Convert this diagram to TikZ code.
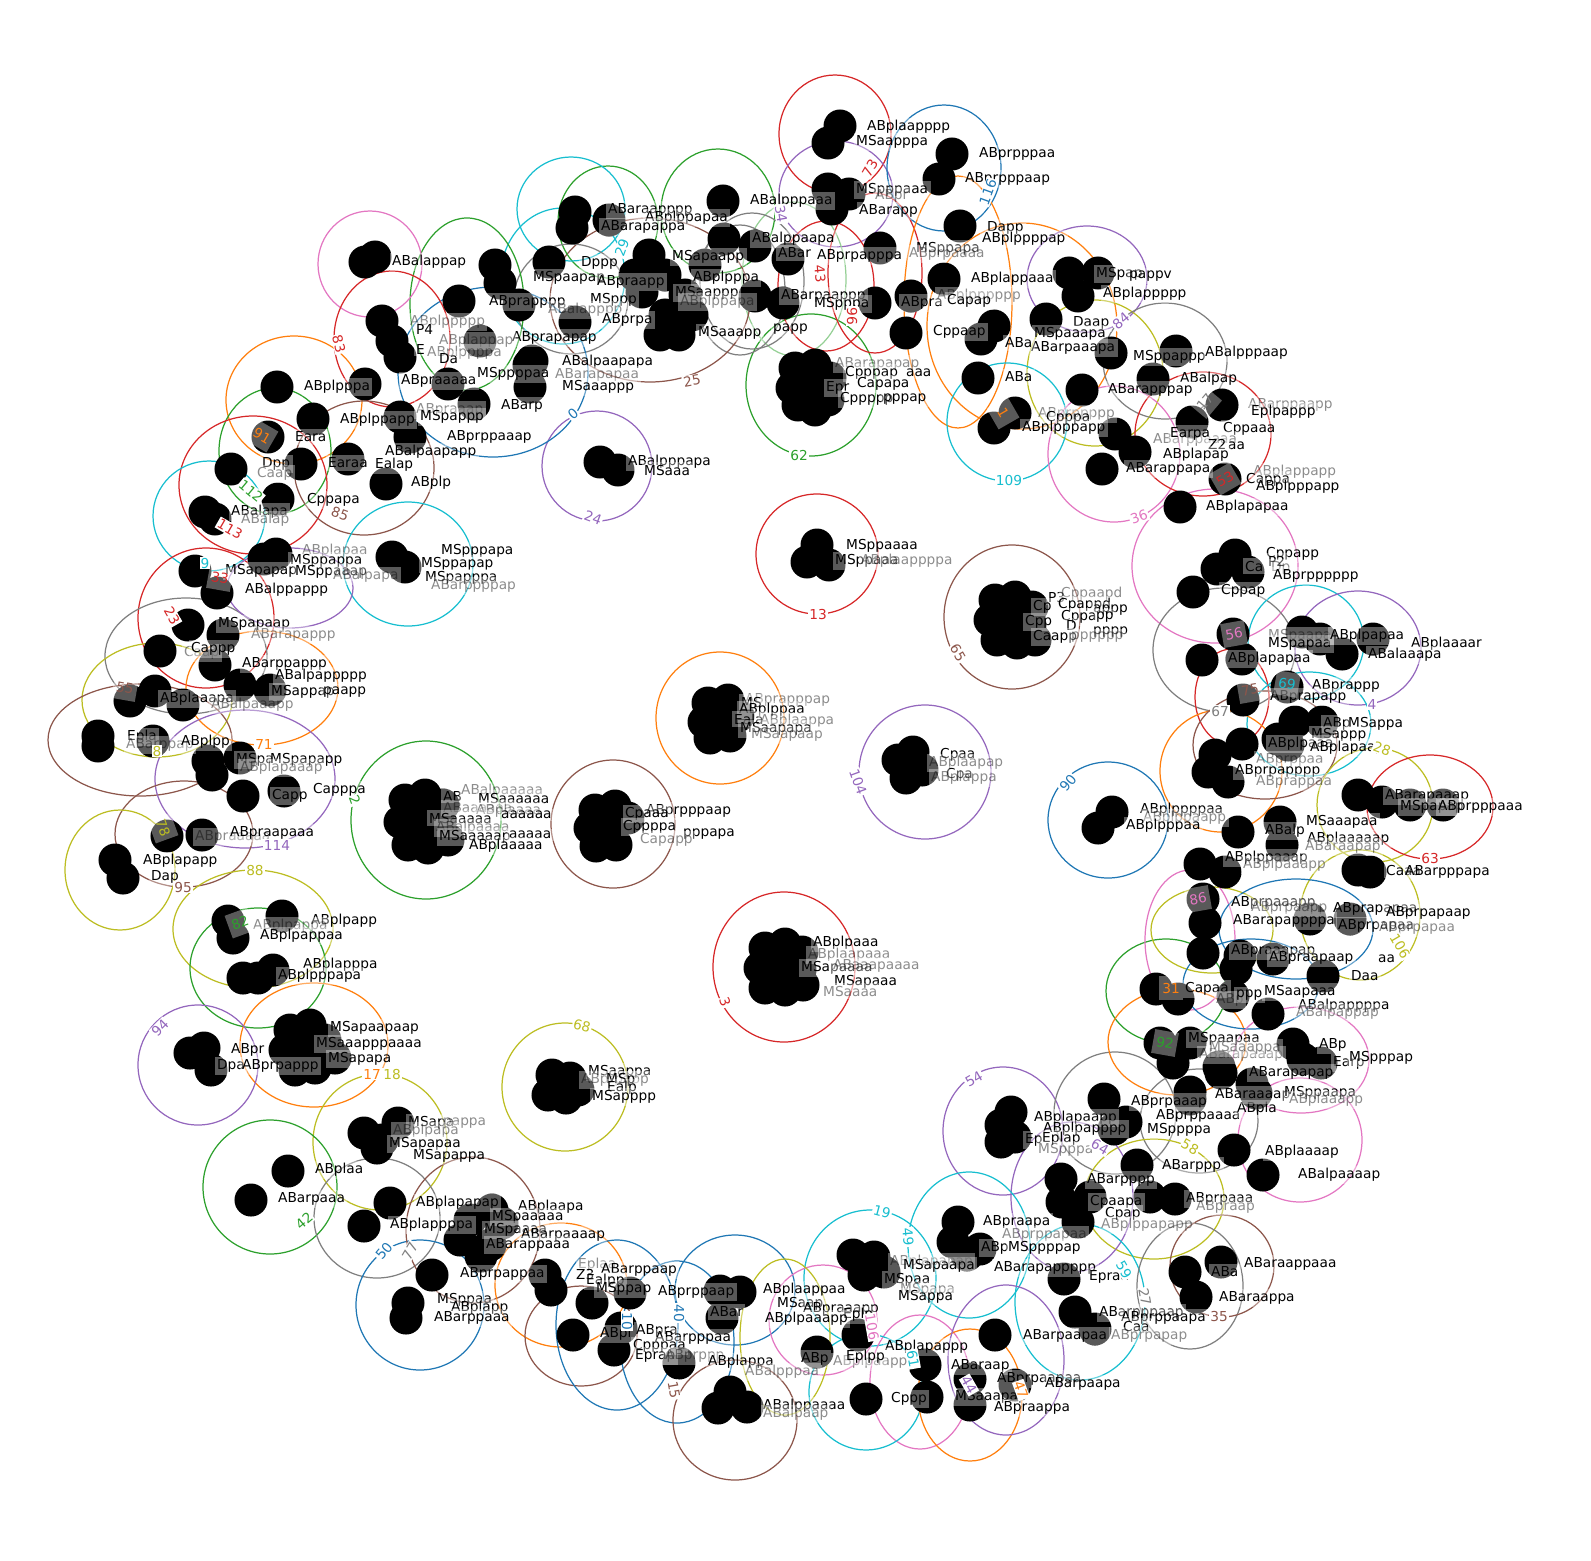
\documentclass[tikz,border=0pt]{standalone}
\usepackage{fontspec}
\setmainfont{DejaVu Sans}
\definecolor{tblue}{HTML}{1F77B4}
\definecolor{torange}{HTML}{FF7F0E}
\definecolor{tgreen}{HTML}{2CA02C}
\definecolor{tred}{HTML}{D62728}
\definecolor{tpurple}{HTML}{9467BD}
\definecolor{tbrown}{HTML}{8C564B}
\definecolor{tpink}{HTML}{E377C2}
\definecolor{tgray}{HTML}{7F7F7F}
\definecolor{tolive}{HTML}{BCBD22}
\definecolor{tcyan}{HTML}{17BECF}
\begin{document}
\begin{tikzpicture}[x=0.01cm, y=-0.01cm,
% common options for the dots:
dot/.style = {circle, fill=black, inner sep=0, minimum size=0.33cm},
% common options for the labels:
lbl/.style = {anchor=west, font=\fontsize{3.9}{4.5}\selectfont, inner sep=0.7pt,
            fill=white, fill opacity=0.35, text opacity=1},
faint/.style = {lbl, text opacity=0.45},
% common options for the hulls and their numbers:
hull/.style = {line width=0.35pt},
num/.style = {font=\fontsize{3.9}{4.5}\selectfont, fill=white, inner sep=0.3pt},
numbox/.style = {font=\fontsize{3.9}{4.5}\selectfont, fill=white, fill opacity=0.35,
            text opacity=1, minimum size=0.24cm, inner sep=0}]
\useasboundingbox (0,0) rectangle (1591,1560);
% hulls, inner
\draw[hull, tpurple] (597,466) ellipse [x radius=55, y radius=55];
\draw[hull, tred] (817,554) ellipse [x radius=61, y radius=60];
\draw[hull, tgreen] (811,385) ellipse [x radius=65, y radius=71];
\draw[hull, tbrown] (1012,617) ellipse [x radius=68, y radius=72];
\draw[hull, torange] (720,718) ellipse [x radius=64, y radius=66];
\draw[hull, tpurple] (925,772) ellipse [x radius=66, y radius=67];
\draw[hull, tblue] (1108,820) ellipse [x radius=60, y radius=58];
\draw[hull, tgreen] (426,820) ellipse [x radius=75, y radius=79];
\draw[hull, tbrown] (613,824) ellipse [x radius=62, y radius=64];
\draw[hull, tred] (784,967) ellipse [x radius=71, y radius=75];
\draw[hull, tolive] (565,1087) ellipse [x radius=63, y radius=64];
% hulls, top
\draw[hull, tred] (835,134) ellipse [x radius=56, y radius=59];
\draw[hull, tpurple] (836,194) ellipse [x radius=57, y radius=53];
\draw[hull, tblue] (944,168) ellipse [x radius=57, y radius=63];
\draw[hull, tgreen] (718,211) ellipse [x radius=57, y radius=62];
\draw[hull, tgreen!50] (794,279) ellipse [x radius=52, y radius=77];
\draw[hull, tgray] (752,281) ellipse [x radius=52, y radius=68];
\draw[hull, tred] (826,286) ellipse [x radius=48, y radius=65];
\draw[hull, tred] (875,273) ellipse [x radius=47, y radius=80];
\draw[hull, torange] (958,302) ellipse [x radius=54, y radius=126];
\draw[hull, torange] (1022,326) ellipse [x radius=95, y radius=103];
\draw[hull, tpurple] (1087,279) ellipse [x radius=60, y radius=53];
\draw[hull, tolive] (1095,373) ellipse [x radius=68, y radius=73];
\draw[hull, tgray] (1165,361) ellipse [x radius=62, y radius=58];
\draw[hull, tcyan] (1007,422) ellipse [x radius=60, y radius=59];
\draw[hull, tpink] (1114,454) ellipse [x radius=66, y radius=68];
\draw[hull, tgray] (740,290) ellipse [x radius=45, y radius=65];
\draw[hull, tbrown] (650,300) ellipse [x radius=100, y radius=82];
\draw[hull, tcyan] (563,276) ellipse [x radius=62, y radius=68];
\draw[hull, tgreen] (608,222) ellipse [x radius=50, y radius=56];
\draw[hull, tcyan] (571,209) ellipse [x radius=54, y radius=52];
\draw[hull, tgray] (571,299) ellipse [x radius=57, y radius=55];
\draw[hull, tgreen] (467,304) ellipse [x radius=57, y radius=86];
\draw[hull, tblue] (493,372) ellipse [x radius=95, y radius=85];
\draw[hull, tpink] (370,264) ellipse [x radius=52, y radius=53];
\draw[hull, tred] (392,339) ellipse [x radius=58, y radius=68];
\draw[hull, torange] (294,400) ellipse [x radius=68, y radius=64];
\draw[hull, tgreen] (275,451) ellipse [x radius=56, y radius=63];
\draw[hull, tred] (253,485) ellipse [x radius=74, y radius=69];
\draw[hull, tcyan] (209,516) ellipse [x radius=56, y radius=55];
\draw[hull, tbrown] (364,468) ellipse [x radius=70, y radius=67];
\draw[hull, tcyan] (408,564) ellipse [x radius=65, y radius=62];
% hulls, left
\draw[hull, tred] (206,618) ellipse [x radius=68, y radius=70];
\draw[hull, tgray] (186,656) ellipse [x radius=81, y radius=58];
\draw[hull, tolive] (157,700) ellipse [x radius=75, y radius=57];
\draw[hull, tbrown] (140,740) ellipse [x radius=92, y radius=56];
\draw[hull, torange] (262,688) ellipse [x radius=76, y radius=57];
\draw[hull, tpurple] (245,779) ellipse [x radius=90, y radius=69];
\draw[hull, tbrown] (184,834) ellipse [x radius=69, y radius=53];
\draw[hull, tolive] (120,870) ellipse [x radius=55, y radius=60];
\draw[hull, tolive] (253,929) ellipse [x radius=80, y radius=59];
\draw[hull, tgreen] (258,968) ellipse [x radius=68, y radius=60];
\draw[hull, tpurple] (290,588) ellipse [x radius=63, y radius=40];
% hulls, bottom
\draw[hull, torange] (314,1045) ellipse [x radius=74, y radius=62];
\draw[hull, tpurple] (198,1065) ellipse [x radius=60, y radius=60];
\draw[hull, tolive] (380,1142) ellipse [x radius=67, y radius=68];
\draw[hull, tgreen] (270,1187) ellipse [x radius=67, y radius=67];
\draw[hull, tgray] (377,1218) ellipse [x radius=63, y radius=60];
\draw[hull, tblue] (420,1305) ellipse [x radius=64, y radius=65];
\draw[hull, tbrown] (473,1230) ellipse [x radius=67, y radius=73];
\draw[hull, torange] (561,1285) ellipse [x radius=66, y radius=62];
\draw[hull, tbrown] (581,1336) ellipse [x radius=56, y radius=50];
\draw[hull, tblue] (617,1325) ellipse [x radius=61, y radius=85];
\draw[hull, tblue] (677,1342) ellipse [x radius=57, y radius=81];
\draw[hull, tblue] (735,1290) ellipse [x radius=60, y radius=55];
\draw[hull, tbrown] (735,1420) ellipse [x radius=62, y radius=60];
\draw[hull, tpurple] (1003,1131) ellipse [x radius=60, y radius=64];
\draw[hull, tgray] (1115,1113) ellipse [x radius=61, y radius=61];
\draw[hull, tgray] (1199,1121) ellipse [x radius=59, y radius=52];
\draw[hull, tolive] (1154,1199) ellipse [x radius=70, y radius=60];
\draw[hull, tpurple] (1072,1197) ellipse [x radius=61, y radius=75];
\draw[hull, tcyan] (969,1245) ellipse [x radius=61, y radius=73];
\draw[hull, tcyan] (1080,1302) ellipse [x radius=65, y radius=78];
\draw[hull, tcyan] (870,1278) ellipse [x radius=66, y radius=68];
\draw[hull, tgray] (1190,1286) ellipse [x radius=53, y radius=63];
\draw[hull, tbrown] (1222,1266) ellipse [x radius=52, y radius=51];
\draw[hull, tpink] (920,1382) ellipse [x radius=50, y radius=67];
\draw[hull, tpink] (823,1320) ellipse [x radius=54, y radius=55];
\draw[hull, tolive] (785,1337) ellipse [x radius=45, y radius=78];
\draw[hull, tcyan] (866,1392) ellipse [x radius=57, y radius=58];
\draw[hull, torange] (970,1395) ellipse [x radius=52, y radius=66];
\draw[hull, tpurple] (1006,1360) ellipse [x radius=58, y radius=75];
\draw[hull, tpink] (1300,1140) ellipse [x radius=62, y radius=62];
% hulls, right
\draw[hull, tgreen] (1166,991) ellipse [x radius=60, y radius=52];
\draw[hull, torange] (1177,1042) ellipse [x radius=69, y radius=53];
\draw[hull, tolive] (1212,930) ellipse [x radius=61, y radius=43];
\draw[hull, tolive] (1360,915) ellipse [x radius=60, y radius=65];
\draw[hull, tpink] (1190,940) ellipse [x radius=45, y radius=70];
\draw[hull, tblue] (1296,929) ellipse [x radius=77, y radius=50];
\draw[hull, tblue] (1251,984) ellipse [x radius=68, y radius=45];
\draw[hull, tpink] (1301,1060) ellipse [x radius=68, y radius=53];
\draw[hull, tred] (1203,434) ellipse [x radius=68, y radius=62];
\draw[hull, tpink] (1215,566) ellipse [x radius=83, y radius=77];
\draw[hull, tgray] (1224,650) ellipse [x radius=71, y radius=62];
\draw[hull, tcyan] (1306,642) ellipse [x radius=58, y radius=57];
\draw[hull, tpurple] (1358,648) ellipse [x radius=63, y radius=57];
\draw[hull, tred] (1232,697) ellipse [x radius=37, y radius=48];
\draw[hull, tcyan] (1309,724) ellipse [x radius=62, y radius=52];
\draw[hull, torange] (1221,771) ellipse [x radius=61, y radius=61];
\draw[hull, tbrown] (1265,745) ellipse [x radius=72, y radius=54];
\draw[hull, tolive] (1375,805) ellipse [x radius=58, y radius=57];
\draw[hull, tred] (1430,807) ellipse [x radius=63, y radius=52];
% dots, inner
\node[dot] (D1) at (600,462) {};
\node[dot] (D2) at (618,470) {};
\node[dot] (D3) at (817,545) {};
\node[dot] (D4) at (807,562) {};
\node[dot] (D5) at (829,565) {};
\node[dot] (D6) at (795,368) {};
\node[dot] (D7) at (815,365) {};
\node[dot] (D8) at (830,378) {};
\node[dot] (D9) at (792,388) {};
\node[dot] (D10) at (812,390) {};
\node[dot] (D11) at (828,400) {};
\node[dot] (D12) at (798,405) {};
\node[dot] (D13) at (815,410) {};
\node[dot] (D14) at (995,600) {};
\node[dot] (D15) at (1015,597) {};
\node[dot] (D16) at (1032,607) {};
\node[dot] (D17) at (990,620) {};
\node[dot] (D18) at (1010,620) {};
\node[dot] (D19) at (1030,625) {};
\node[dot] (D20) at (997,640) {};
\node[dot] (D21) at (1017,643) {};
\node[dot] (D22) at (1035,640) {};
\node[dot] (D23) at (708,703) {};
\node[dot] (D24) at (728,700) {};
\node[dot] (D25) at (738,716) {};
\node[dot] (D26) at (704,722) {};
\node[dot] (D27) at (722,720) {};
\node[dot] (D28) at (710,738) {};
\node[dot] (D29) at (730,736) {};
\node[dot] (D30) at (898,760) {};
\node[dot] (D31) at (913,752) {};
\node[dot] (D32) at (906,778) {};
\node[dot] (D33) at (922,770) {};
\node[dot] (D34) at (1112,812) {};
\node[dot] (D35) at (1098,828) {};
\node[dot] (D36) at (405,800) {};
\node[dot] (D37) at (425,795) {};
\node[dot] (D38) at (443,805) {};
\node[dot] (D39) at (400,822) {};
\node[dot] (D40) at (420,822) {};
\node[dot] (D41) at (440,825) {};
\node[dot] (D42) at (408,845) {};
\node[dot] (D43) at (428,848) {};
\node[dot] (D44) at (448,840) {};
\node[dot] (D45) at (595,810) {};
\node[dot] (D46) at (615,806) {};
\node[dot] (D47) at (628,818) {};
\node[dot] (D48) at (590,828) {};
\node[dot] (D49) at (610,828) {};
\node[dot] (D50) at (596,846) {};
\node[dot] (D51) at (616,845) {};
\node[dot] (D52) at (765,948) {};
\node[dot] (D53) at (785,944) {};
\node[dot] (D54) at (802,952) {};
\node[dot] (D55) at (760,968) {};
\node[dot] (D56) at (780,968) {};
\node[dot] (D57) at (800,970) {};
\node[dot] (D58) at (765,988) {};
\node[dot] (D59) at (785,990) {};
\node[dot] (D60) at (803,985) {};
\node[dot] (D61) at (552,1075) {};
\node[dot] (D62) at (570,1078) {};
\node[dot] (D63) at (548,1095) {};
\node[dot] (D64) at (566,1098) {};
\node[dot] (D65) at (578,1090) {};
% dots, top
\node[dot] (D66) at (840,126) {};
\node[dot] (D67) at (828,143) {};
\node[dot] (D68) at (952,154) {};
\node[dot] (D69) at (939,179) {};
\node[dot] (D70) at (723,201) {};
\node[dot] (D71) at (828,189) {};
\node[dot] (D72) at (832,209) {};
\node[dot] (D73) at (849,194) {};
\node[dot] (D74) at (960,226) {};
\node[dot] (D75) at (880,248) {};
\node[dot] (D76) at (724,239) {};
\node[dot] (D77) at (755,246) {};
\node[dot] (D78) at (788,259) {};
\node[dot] (D79) at (875,303) {};
\node[dot] (D80) at (911,296) {};
\node[dot] (D81) at (906,333) {};
\node[dot] (D82) at (944,279) {};
\node[dot] (D83) at (783,303) {};
\node[dot] (D84) at (755,296) {};
\node[dot] (D85) at (981,339) {};
\node[dot] (D86) at (978,378) {};
\node[dot] (D87) at (994,326) {};
\node[dot] (D88) at (1046,319) {};
\node[dot] (D89) at (1069,273) {};
\node[dot] (D90) at (1098,273) {};
\node[dot] (D91) at (1078,296) {};
\node[dot] (D92) at (1111,353) {};
\node[dot] (D93) at (1176,351) {};
\node[dot] (D94) at (994,428) {};
\node[dot] (D95) at (1015,413) {};
\node[dot] (D96) at (649,255) {};
\node[dot] (D97) at (665,275) {};
\node[dot] (D98) at (642,292) {};
\node[dot] (D99) at (665,315) {};
\node[dot] (D100) at (679,335) {};
\node[dot] (D101) at (692,315) {};
\node[dot] (D102) at (705,265) {};
\node[dot] (D103) at (635,275) {};
\node[dot] (D104) at (660,335) {};
\node[dot] (D105) at (685,295) {};
\node[dot] (D106) at (575,212) {};
\node[dot] (D107) at (572,228) {};
\node[dot] (D108) at (609,220) {};
\node[dot] (D109) at (549,262) {};
\node[dot] (D110) at (495,265) {};
\node[dot] (D111) at (500,283) {};
\node[dot] (D112) at (519,305) {};
\node[dot] (D113) at (575,322) {};
\node[dot] (D114) at (529,365) {};
\node[dot] (D115) at (365,262) {};
\node[dot] (D116) at (375,257) {};
\node[dot] (D117) at (459,301) {};
\node[dot] (D118) at (382,321) {};
\node[dot] (D119) at (392,341) {};
\node[dot] (D120) at (400,357) {};
\node[dot] (D121) at (480,341) {};
\node[dot] (D122) at (448,384) {};
\node[dot] (D123) at (474,404) {};
\node[dot] (D124) at (532,361) {};
\node[dot] (D125) at (530,387) {};
\node[dot] (D126) at (264,559) {};
\node[dot] (D127) at (276,554) {};
\node[dot] (D128) at (392,557) {};
\node[dot] (D129) at (405,567) {};
\node[dot] (D130) at (277,387) {};
\node[dot] (D131) at (313,419) {};
\node[dot] (D132) at (268,437) {};
\node[dot] (D133) at (301,464) {};
\node[dot] (D134) at (231,469) {};
\node[dot] (D135) at (348,459) {};
\node[dot] (D136) at (386,484) {};
\node[dot] (D137) at (278,499) {};
\node[dot] (D138) at (205,512) {};
\node[dot] (D139) at (215,519) {};
\node[dot] (D140) at (365,384) {};
\node[dot] (D141) at (400,417) {};
\node[dot] (D142) at (410,437) {};
% dots, left
\node[dot] (D143) at (195,571) {};
\node[dot] (D144) at (217,593) {};
\node[dot] (D145) at (188,625) {};
\node[dot] (D146) at (160,651) {};
\node[dot] (D147) at (223,635) {};
\node[dot] (D148) at (215,665) {};
\node[dot] (D149) at (240,685) {};
\node[dot] (D150) at (270,690) {};
\node[dot] (D151) at (155,691) {};
\node[dot] (D152) at (130,701) {};
\node[dot] (D153) at (183,705) {};
\node[dot] (D154) at (98,736) {};
\node[dot] (D155) at (98,746) {};
\node[dot] (D156) at (153,741) {};
\node[dot] (D157) at (208,761) {};
\node[dot] (D158) at (212,775) {};
\node[dot] (D159) at (240,758) {};
\node[dot] (D160) at (243,796) {};
\node[dot] (D161) at (284,791) {};
\node[dot] (D162) at (202,835) {};
\node[dot] (D163) at (167,836) {};
\node[dot] (D164) at (115,860) {};
\node[dot] (D165) at (123,878) {};
\node[dot] (D166) at (228,921) {};
\node[dot] (D167) at (233,938) {};
\node[dot] (D168) at (282,916) {};
\node[dot] (D169) at (243,978) {};
\node[dot] (D170) at (273,970) {};
\node[dot] (D171) at (258,978) {};
% dots, bottom left
\node[dot] (D172) at (204,1048) {};
\node[dot] (D173) at (211,1070) {};
\node[dot] (D174) at (190,1053) {};
\node[dot] (D175) at (290,1030) {};
\node[dot] (D176) at (310,1025) {};
\node[dot] (D177) at (285,1050) {};
\node[dot] (D178) at (305,1050) {};
\node[dot] (D179) at (325,1040) {};
\node[dot] (D180) at (295,1070) {};
\node[dot] (D181) at (315,1068) {};
\node[dot] (D182) at (335,1058) {};
\node[dot] (D183) at (382,1140) {};
\node[dot] (D184) at (364,1133) {};
\node[dot] (D185) at (398,1123) {};
\node[dot] (D186) at (377,1148) {};
\node[dot] (D187) at (288,1171) {};
\node[dot] (D188) at (251,1200) {};
\node[dot] (D189) at (390,1203) {};
\node[dot] (D190) at (364,1226) {};
\node[dot] (D191) at (492,1210) {};
\node[dot] (D192) at (460,1240) {};
\node[dot] (D193) at (481,1256) {};
\node[dot] (D194) at (502,1223) {};
\node[dot] (D195) at (470,1220) {};
\node[dot] (D196) at (490,1245) {};
\node[dot] (D197) at (432,1275) {};
\node[dot] (D198) at (408,1303) {};
\node[dot] (D199) at (406,1318) {};
\node[dot] (D200) at (551,1290) {};
\node[dot] (D201) at (545,1275) {};
\node[dot] (D202) at (592,1303) {};
\node[dot] (D203) at (630,1293) {};
\node[dot] (D204) at (573,1335) {};
\node[dot] (D205) at (614,1350) {};
\node[dot] (D206) at (621,1328) {};
\node[dot] (D207) at (679,1363) {};
\node[dot] (D208) at (718,1408) {};
\node[dot] (D209) at (720,1291) {};
\node[dot] (D210) at (722,1318) {};
% dots, bottom
\node[dot] (D211) at (1001,1125) {};
\node[dot] (D212) at (1011,1112) {};
\node[dot] (D213) at (1001,1142) {};
\node[dot] (D214) at (1015,1137) {};
\node[dot] (D215) at (1104,1099) {};
\node[dot] (D216) at (1126,1122) {};
\node[dot] (D217) at (1114,1129) {};
\node[dot] (D218) at (1137,1165) {};
\node[dot] (D219) at (1234,1150) {};
\node[dot] (D220) at (1190,1092) {};
\node[dot] (D221) at (1219,1067) {};
\node[dot] (D222) at (1252,1084) {};
\node[dot] (D223) at (1263,1175) {};
\node[dot] (D224) at (1061,1179) {};
\node[dot] (D225) at (1062,1202) {};
\node[dot] (D226) at (1078,1222) {};
\node[dot] (D227) at (1090,1197) {};
\node[dot] (D228) at (1150,1197) {};
\node[dot] (D229) at (1175,1199) {};
\node[dot] (D230) at (958,1222) {};
\node[dot] (D231) at (953,1242) {};
\node[dot] (D232) at (967,1255) {};
\node[dot] (D233) at (980,1249) {};
\node[dot] (D234) at (1064,1279) {};
\node[dot] (D235) at (1075,1312) {};
\node[dot] (D236) at (1095,1329) {};
\node[dot] (D237) at (1185,1272) {};
\node[dot] (D238) at (1196,1297) {};
\node[dot] (D239) at (1221,1262) {};
\node[dot] (D240) at (864,1275) {};
\node[dot] (D241) at (853,1255) {};
\node[dot] (D242) at (874,1257) {};
\node[dot] (D243) at (884,1272) {};
\node[dot] (D244) at (740,1292) {};
\node[dot] (D245) at (747,1407) {};
\node[dot] (D246) at (730,1392) {};
\node[dot] (D247) at (817,1352) {};
\node[dot] (D248) at (858,1335) {};
\node[dot] (D249) at (866,1399) {};
\node[dot] (D250) at (995,1335) {};
\node[dot] (D251) at (925,1365) {};
\node[dot] (D252) at (927,1397) {};
\node[dot] (D253) at (970,1379) {};
\node[dot] (D254) at (970,1405) {};
\node[dot] (D255) at (1015,1385) {};
% dots, right
\node[dot] (D256) at (1203,899) {};
\node[dot] (D257) at (1205,923) {};
\node[dot] (D258) at (1203,953) {};
\node[dot] (D259) at (1240,956) {};
\node[dot] (D260) at (1236,969) {};
\node[dot] (D261) at (1273,959) {};
\node[dot] (D262) at (1310,919) {};
\node[dot] (D263) at (1350,919) {};
\node[dot] (D264) at (1323,976) {};
\node[dot] (D265) at (1156,989) {};
\node[dot] (D266) at (1178,999) {};
\node[dot] (D267) at (1233,996) {};
\node[dot] (D268) at (1268,1014) {};
\node[dot] (D269) at (1160,1043) {};
\node[dot] (D270) at (1173,1063) {};
\node[dot] (D271) at (1190,1043) {};
\node[dot] (D272) at (1293,1044) {};
\node[dot] (D273) at (1303,1059) {};
\node[dot] (D274) at (1321,1063) {};
\node[dot] (D275) at (1221,1073) {};
\node[dot] (D276) at (1256,1093) {};
\node[dot] (D277) at (1190,1099) {};
\node[dot] (D278) at (1082,390) {};
\node[dot] (D279) at (1153,379) {};
\node[dot] (D280) at (1222,405) {};
\node[dot] (D281) at (1192,422) {};
\node[dot] (D282) at (1115,434) {};
\node[dot] (D283) at (1102,469) {};
\node[dot] (D284) at (1135,452) {};
\node[dot] (D285) at (1225,479) {};
\node[dot] (D286) at (1180,507) {};
\node[dot] (D287) at (1235,555) {};
\node[dot] (D288) at (1217,569) {};
\node[dot] (D289) at (1248,572) {};
\node[dot] (D290) at (1193,592) {};
\node[dot] (D291) at (1233,634) {};
\node[dot] (D292) at (1202,660) {};
\node[dot] (D293) at (1242,659) {};
\node[dot] (D294) at (1302,632) {};
\node[dot] (D295) at (1320,639) {};
\node[dot] (D296) at (1342,654) {};
\node[dot] (D297) at (1373,639) {};
\node[dot] (D298) at (1287,687) {};
\node[dot] (D299) at (1243,700) {};
\node[dot] (D300) at (1295,722) {};
\node[dot] (D301) at (1322,722) {};
\node[dot] (D302) at (1278,739) {};
\node[dot] (D303) at (1288,745) {};
\node[dot] (D304) at (1242,744) {};
\node[dot] (D305) at (1208,772) {};
\node[dot] (D306) at (1228,782) {};
\node[dot] (D307) at (1215,755) {};
\node[dot] (D308) at (1358,795) {};
\node[dot] (D309) at (1382,802) {};
\node[dot] (D310) at (1410,805) {};
\node[dot] (D311) at (1443,805) {};
\node[dot] (D312) at (1238,832) {};
\node[dot] (D313) at (1280,822) {};
\node[dot] (D314) at (1282,845) {};
\node[dot] (D315) at (1200,864) {};
\node[dot] (D316) at (1225,872) {};
\node[dot] (D317) at (1358,870) {};
\node[dot] (D318) at (1370,872) {};
% labels, inner
\node[lbl] (T1) at (625,462) {ABalpppapa};
\node[lbl] (T2) at (641,470) {MSaaa};
\node[lbl] (T3) at (843,546) {MSppaaaa};
\node[lbl] (T4) at (832,561) {MSppaaa};
\node[faint] (T5) at (858,561) {ABplaappppa};
\node[faint] (T6) at (832,364) {ABarapapap};
\node[lbl] (T7) at (842,373) {Cpppap};
\node[lbl] (T8) at (823,388) {Epr};
\node[lbl] (T9) at (854,384) {Capapa};
\node[lbl] (T10) at (837,399) {Cppppp};
\node[lbl] (T11) at (880,399) {pppap};
\node[lbl] (T12) at (903,373) {aaa};
\node[lbl] (T13) at (1045,597) {P3};
\node[faint] (T14) at (1058,594) {Cppaapd};
\node[lbl] (T15) at (1055,605) {Cpappd};
\node[lbl] (T16) at (1090,610) {appp};
\node[lbl] (T17) at (1030,607) {Cp};
\node[lbl] (T18) at (1058,617) {Cppa};
\node[lbl] (T19) at (1093,617) {pp};
\node[lbl] (T20) at (1022,622) {Cpp};
\node[lbl] (T21) at (1063,625) {D};
\node[lbl] (T22) at (1090,632) {pppp};
\node[lbl] (T23) at (1030,637) {Caapp};
\node[faint] (T24) at (1068,637) {pppppp};
\node[faint] (T25) at (742,700) {ABprapppap};
\node[lbl] (T26) at (738,702) {MS};
\node[lbl] (T27) at (736,710) {ABplppaa};
\node[lbl] (T28) at (731,719) {Eala};
\node[faint] (T29) at (757,721) {ABplaappa};
\node[lbl] (T30) at (737,729) {MSaapapa};
\node[faint] (T31) at (748,735) {MSaapaap};
\node[lbl] (T32) at (937,755) {Cpaa};
\node[faint] (T33) at (926,763) {ABplaapap};
\node[lbl] (T34) at (943,775) {Cpa};
\node[faint] (T35) at (928,778) {ABplappa};
\node[lbl] (T36) at (1137,810) {ABplppppaa};
\node[faint] (T37) at (1140,818) {ABplppaapp};
\node[lbl] (T38) at (1123,826) {ABplpppaa};
\node[lbl] (T39) at (440,796) {AB};
\node[faint] (T40) at (458,791) {ABalpaaaaa};
\node[lbl] (T41) at (475,798) {MSaaaaaa};
\node[faint] (T42) at (440,808) {ABaaaaaa};
\node[faint] (T43) at (473,811) {ABplaaaa};
\node[lbl] (T44) at (498,815) {aaaaaa};
\node[lbl] (T45) at (426,818) {MSaaaaa};
\node[faint] (T46) at (433,828) {ABalpaaaa};
\node[lbl] (T47) at (436,837) {MSaaaaap};
\node[lbl] (T48) at (506,835) {aaaaa};
\node[lbl] (T49) at (466,846) {ABplaaaaa};
\node[lbl] (T50) at (643,811) {ABprpppaap};
\node[lbl] (T51) at (622,814) {Cpaaa};
\node[lbl] (T52) at (620,827) {Cppppa};
\node[lbl] (T53) at (680,834) {pppapa};
\node[faint] (T54) at (637,840) {Capapp};
\node[lbl] (T55) at (810,943) {ABplpaaa};
\node[faint] (T56) at (805,955) {ABplaapaaa};
\node[lbl] (T57) at (798,968) {MSapaaaa};
\node[faint] (T58) at (830,966) {ABaaapaaaa};
\node[lbl] (T59) at (831,982) {MSapaaa};
\node[faint] (T60) at (820,991) {MSaaaa};
\node[lbl] (T61) at (585,1072) {MSaappa};
\node[faint] (T62) at (578,1080) {ABprpapp};
\node[lbl] (T63) at (603,1080) {MSp};
\node[lbl] (T64) at (604,1088) {Ealp};
\node[lbl] (T65) at (589,1097) {MSapppp};
% labels, top
\node[lbl] (T66) at (864,127) {ABplaapppp};
\node[lbl] (T67) at (853,142) {MSaapppa};
\node[lbl] (T68) at (976,154) {ABprpppaa};
\node[lbl] (T69) at (962,179) {ABprpppaap};
\node[lbl] (T70) at (747,201) {ABalpppaaa};
\node[lbl] (T71) at (853,190) {MSpppaaa};
\node[faint] (T72) at (872,196) {ABpr};
\node[lbl] (T73) at (856,211) {ABarapp};
\node[lbl] (T74) at (984,228) {Dapp};
\node[lbl] (T75) at (979,239) {ABplppppap};
\node[lbl] (T76) at (749,239) {ABalppaapa};
\node[lbl] (T77) at (775,253) {ABar};
\node[lbl] (T78) at (814,256) {ABprpapppa};
\node[lbl] (T79) at (913,249) {MSppapa};
\node[faint] (T80) at (906,254) {ABprpaaaa};
\node[lbl] (T81) at (968,279) {ABplappaaa};
\node[lbl] (T82) at (898,303) {ABpra};
\node[faint] (T83) at (934,296) {ABplpppppp};
\node[lbl] (T84) at (944,301) {Capap};
\node[lbl] (T85) at (930,332) {Cppaap};
\node[lbl] (T86) at (778,296) {ABarpaappp};
\node[lbl] (T87) at (811,304) {MSpppa};
\node[lbl] (T88) at (770,329) {papp};
\node[lbl] (T89) at (1093,274) {MSpap};
\node[lbl] (T90) at (1126,276) {pappv};
\node[lbl] (T91) at (1100,294) {ABplappppp};
\node[lbl] (T92) at (1070,323) {Daap};
\node[lbl] (T93) at (1031,334) {MSpaaapa};
\node[lbl] (T94) at (1028,348) {ABarpaaapa};
\node[lbl] (T95) at (1002,343) {ABa};
\node[lbl] (T96) at (1002,377) {ABa};
\node[lbl] (T97) at (1130,357) {MSppappp};
\node[lbl] (T98) at (1202,353) {ABalpppaap};
\node[faint] (T99) at (1035,414) {ABprppppp};
\node[lbl] (T100) at (1043,418) {Cpppa};
\node[lbl] (T101) at (1019,428) {ABplpppapp};
\node[lbl] (T102) at (605,210) {ABaraapppp};
\node[lbl] (T103) at (642,218) {ABplppapaa};
\node[lbl] (T104) at (598,227) {ABarapappa};
\node[lbl] (T105) at (578,263) {Dppp};
\node[lbl] (T106) at (530,278) {MSpaapap};
\node[lbl] (T107) at (594,282) {ABpraapp};
\node[lbl] (T108) at (587,300) {MSppp};
\node[lbl] (T109) at (486,302) {ABprapppp};
\node[faint] (T110) at (545,310) {ABalapppp};
\node[lbl] (T111) at (599,320) {ABprpa};
\node[lbl] (T112) at (669,257) {MSapaapp};
\node[lbl] (T113) at (690,278) {ABplpppa};
\node[lbl] (T114) at (672,293) {MSaappp};
\node[faint] (T115) at (677,302) {ABplppapa};
\node[lbl] (T116) at (695,333) {MSaaapp};
\node[lbl] (T117) at (509,338) {ABprapapap};
\node[lbl] (T118) at (559,362) {ABalpaapapa};
\node[faint] (T119) at (552,375) {ABarapapaa};
\node[lbl] (T120) at (559,387) {MSaaappp};
\node[lbl] (T121) at (389,262) {ABalappap};
\node[faint] (T122) at (407,322) {ABplppppp};
\node[lbl] (T123) at (413,329) {P4};
\node[lbl] (T124) at (413,349) {E};
\node[faint] (T125) at (436,341) {ABplappap};
\node[faint] (T126) at (424,353) {ABplppppa};
\node[lbl] (T127) at (436,359) {Da};
\node[lbl] (T128) at (398,381) {ABpraaaaa};
\node[lbl] (T129) at (474,374) {MSppppaa};
\node[faint] (T130) at (413,410) {ABpraaap};
\node[lbl] (T131) at (417,417) {MSpappp};
\node[lbl] (T132) at (498,406) {ABarp};
\node[lbl] (T133) at (444,437) {ABprppaaap};
\node[lbl] (T134) at (382,452) {ABalpaapapp};
\node[lbl] (T135) at (372,465) {Ealap};
\node[lbl] (T136) at (408,483) {ABplp};
\node[lbl] (T137) at (301,387) {ABplpppa};
\node[lbl] (T138) at (337,420) {ABplppapp};
\node[lbl] (T139) at (292,437) {Eara};
\node[lbl] (T140) at (325,463) {Earaa};
\node[lbl] (T141) at (259,464) {Dpp};
\node[faint] (T142) at (254,474) {Caap};
\node[lbl] (T143) at (304,500) {Cppapa};
\node[lbl] (T144) at (228,512) {ABalapa};
\node[faint] (T145) at (238,520) {ABalap};
\node[faint] (T146) at (299,551) {ABplapaa};
\node[lbl] (T147) at (287,561) {MSppappa};
\node[lbl] (T148) at (438,551) {MSpppapa};
\node[lbl] (T149) at (418,564) {MSppapap};
\node[lbl] (T150) at (422,578) {MSpapppa};
\node[faint] (T151) at (428,586) {ABarppppap};
% labels, left
\node[lbl] (T152) at (222,571) {MSapapap};
\node[lbl] (T153) at (292,572) {MSppaaap};
\node[faint] (T154) at (330,576) {ABalpapa};
\node[lbl] (T155) at (242,590) {ABalppappp};
\node[lbl] (T156) at (215,624) {MSpapaap};
\node[faint] (T157) at (248,635) {ABarapappp};
\node[faint] (T158) at (181,653) {Caap};
\node[lbl] (T159) at (188,649) {Cappp};
\node[lbl] (T160) at (239,664) {ABarppappp};
\node[lbl] (T161) at (272,676) {ABalpappppp};
\node[lbl] (T162) at (268,692) {MSappap};
\node[lbl] (T163) at (320,692) {paapp};
\node[lbl] (T164) at (157,699) {ABplaaapa};
\node[faint] (T165) at (208,705) {ABalpaaapp};
\node[lbl] (T166) at (124,737) {Epla};
\node[faint] (T167) at (123,745) {ABarppap};
\node[lbl] (T168) at (178,742) {ABplpp};
\node[lbl] (T169) at (233,760) {MSpa};
\node[lbl] (T170) at (267,760) {MSpapapp};
\node[faint] (T171) at (237,768) {ABplapaaap};
\node[lbl] (T172) at (310,790) {Capppa};
\node[lbl] (T173) at (269,796) {Capp};
\node[faint] (T174) at (192,837) {ABpraaaaa};
\node[lbl] (T175) at (227,833) {ABpraapaaa};
\node[lbl] (T176) at (140,861) {ABplapapp};
\node[lbl] (T177) at (148,877) {Dap};
\node[lbl] (T178) at (308,921) {ABplpapp};
\node[faint] (T179) at (250,926) {ABplpappa};
\node[lbl] (T180) at (257,936) {ABplpappaa};
\node[lbl] (T181) at (300,965) {ABplapppa};
\node[lbl] (T182) at (275,976) {ABplpppapa};
% labels, bottom left
\node[lbl] (T183) at (228,1050) {ABpr};
\node[lbl] (T184) at (214,1066) {Dpa};
\node[lbl] (T185) at (239,1066) {ABprpappp};
\node[lbl] (T186) at (327,1028) {MSapaapaap};
\node[lbl] (T187) at (313,1044) {MSaaapppaaaa};
\node[lbl] (T188) at (325,1059) {MSapapa};
\node[lbl] (T189) at (405,1123) {MSapa};
\node[faint] (T190) at (440,1123) {pappa};
\node[faint] (T191) at (390,1131) {ABplpapa};
\node[lbl] (T192) at (386,1144) {MSapapaa};
\node[lbl] (T193) at (410,1156) {MSapappa};
\node[lbl] (T194) at (312,1170) {ABplaa};
\node[lbl] (T195) at (275,1199) {ABarpaaa};
\node[lbl] (T196) at (413,1203) {ABplapapap};
\node[lbl] (T197) at (387,1225) {ABplappppa};
\node[lbl] (T198) at (515,1207) {ABplaapa};
\node[lbl] (T199) at (489,1217) {MSpaaaaa};
\node[lbl] (T200) at (481,1230) {MSpaaaa};
\node[lbl] (T201) at (518,1235) {ABarpaaaap};
\node[lbl] (T202) at (483,1245) {ABarappaaa};
\node[lbl] (T203) at (457,1274) {ABprpappaa};
\node[lbl] (T204) at (434,1300) {MSppaa};
\node[lbl] (T205) at (448,1308) {ABplapp};
\node[lbl] (T206) at (431,1318) {ABarppaaa};
\node[faint] (T207) at (575,1265) {Eplaa};
\node[lbl] (T208) at (573,1274) {Z3};
\node[lbl] (T209) at (598,1270) {ABarppaap};
\node[lbl] (T210) at (583,1281) {Ealpp};
\node[lbl] (T211) at (593,1289) {MSppap};
\node[lbl] (T212) at (655,1292) {ABprppaap};
\node[lbl] (T213) at (707,1312) {ABar};
\node[lbl] (T214) at (597,1334) {ABpl};
\node[lbl] (T215) at (633,1331) {ABpra};
\node[lbl] (T216) at (652,1338) {ABarpppaa};
\node[lbl] (T217) at (630,1346) {Cpppaa};
\node[lbl] (T218) at (632,1356) {Eprap};
\node[faint] (T219) at (662,1356) {ABprppp};
\node[lbl] (T220) at (705,1362) {ABplappa};
\node[faint] (T221) at (742,1372) {ABalpppaa};
% labels, bottom
\node[lbl] (T222) at (1031,1118) {ABplapaapp};
\node[lbl] (T223) at (1040,1129) {ABplpapppp};
\node[lbl] (T224) at (1022,1140) {Ep};
\node[lbl] (T225) at (1039,1139) {Eplap};
\node[faint] (T226) at (1035,1150) {MSpppa};
\node[lbl] (T227) at (1128,1102) {ABprpaaap};
\node[lbl] (T228) at (1153,1116) {ABprppaaaa};
\node[lbl] (T229) at (1144,1130) {MSppppa};
\node[lbl] (T230) at (1159,1166) {ABarppp};
\node[lbl] (T231) at (1234,1109) {ABpla};
\node[lbl] (T232) at (1212,1095) {ABaraaaap};
\node[lbl] (T233) at (1084,1180) {ABarpppp};
\node[lbl] (T234) at (1087,1202) {Cpaapa};
\node[lbl] (T235) at (1102,1214) {Cpap};
\node[faint] (T236) at (1098,1225) {ABplppapapp};
\node[lbl] (T237) at (1183,1199) {ABprpaaa};
\node[faint] (T238) at (1193,1207) {ABpraap};
\node[lbl] (T239) at (980,1222) {ABpraapa};
\node[faint] (T240) at (999,1235) {ABprppapaa};
\node[lbl] (T241) at (978,1248) {ABp};
\node[lbl] (T242) at (1005,1248) {MSppppap};
\node[lbl] (T243) at (991,1268) {ABarapappppp};
\node[lbl] (T244) at (1086,1277) {Epraa};
\node[lbl] (T245) at (1096,1313) {ABarpppaap};
\node[lbl] (T246) at (1118,1318) {ABprppaapa};
\node[lbl] (T247) at (1120,1326) {Caa};
\node[faint] (T248) at (1108,1336) {ABprpapap};
\node[lbl] (T249) at (1208,1272) {ABa};
\node[lbl] (T250) at (1241,1264) {ABaraappaaa};
\node[lbl] (T251) at (1216,1298) {ABaraappa};
\node[lbl] (T252) at (1020,1336) {ABarpaapaa};
\node[faint] (T253) at (887,1262) {ABplapapap};
\node[lbl] (T254) at (900,1266) {MSapaapa};
\node[lbl] (T255) at (881,1280) {MSpaa};
\node[faint] (T256) at (897,1290) {MSpapa};
\node[lbl] (T257) at (895,1297) {MSappa};
\node[lbl] (T258) at (760,1290) {ABplaappaa};
\node[lbl] (T259) at (774,1304) {MSaap};
\node[lbl] (T260) at (800,1309) {ABpraaapp};
\node[lbl] (T261) at (840,1315) {Eplp};
\node[lbl] (T262) at (762,1319) {ABplpaaapp};
\node[lbl] (T263) at (882,1347) {ABplapappp};
\node[lbl] (T264) at (798,1359) {ABp};
\node[faint] (T265) at (830,1362) {ABplpaapp};
\node[lbl] (T266) at (843,1357) {Eplpp};
\node[lbl] (T267) at (948,1366) {ABaraap};
\node[lbl] (T268) at (994,1379) {ABprpaapaa};
\node[lbl] (T269) at (1042,1384) {ABarpaapa};
\node[lbl] (T270) at (952,1397) {MSaaapap};
\node[lbl] (T271) at (991,1408) {ABpraappa};
\node[lbl] (T272) at (888,1399) {Cppp};
\node[lbl] (T273) at (760,1406) {ABalppaaaa};
\node[faint] (T274) at (760,1414) {ABalpaap};
\node[lbl] (T275) at (1262,1152) {ABplaaaap};
\node[lbl] (T276) at (1295,1175) {ABalpaaaap};
% labels, right
\node[lbl] (T277) at (1222,858) {ABplppaaap};
\node[faint] (T278) at (1240,865) {ABplpaaapp};
\node[lbl] (T279) at (1228,903) {ABprpaaapp};
\node[faint] (T280) at (1248,908) {ABprpaapp};
\node[lbl] (T281) at (1330,909) {ABprapapaa};
\node[lbl] (T282) at (1383,913) {ABprpapaap};
\node[lbl] (T283) at (1230,921) {ABarapappppa};
\node[lbl] (T284) at (1335,926) {ABprpapaa};
\node[faint] (T285) at (1376,928) {ABprpapaa};
\node[lbl] (T286) at (1228,951) {ABpraaapap};
\node[lbl] (T287) at (1266,958) {ABpraapaap};
\node[lbl] (T288) at (1375,959) {aa};
\node[lbl] (T289) at (1348,976) {Daa};
\node[lbl] (T290) at (1182,989) {Capaa};
\node[faint] (T291) at (1213,1000) {ABp};
\node[lbl] (T292) at (1233,995) {ppp};
\node[lbl] (T293) at (1261,992) {MSaapaaa};
\node[lbl] (T294) at (1295,1006) {ABalpappppa};
\node[faint] (T295) at (1293,1013) {ABalpappap};
\node[lbl] (T296) at (1185,1039) {MSpaapaa};
\node[faint] (T297) at (1196,1055) {ABarapaaap};
\node[faint] (T298) at (1206,1048) {MSaaappa};
\node[lbl] (T299) at (1316,1045) {ABp};
\node[lbl] (T300) at (1330,1063) {Earp};
\node[lbl] (T301) at (1346,1058) {MSpppap};
\node[lbl] (T302) at (1246,1073) {ABarapapap};
\node[lbl] (T303) at (1281,1093) {MSppaapa};
\node[faint] (T304) at (1286,1100) {ABplaaapp};
\node[lbl] (T305) at (1177,379) {ABalpap};
\node[lbl] (T306) at (1105,390) {ABarapppap};
\node[faint] (T307) at (1245,405) {ABarppaapp};
\node[lbl] (T308) at (1248,412) {Eplpappp};
\node[lbl] (T309) at (1220,429) {Cppaaa};
\node[faint] (T310) at (1150,440) {ABarppaaaa};
\node[lbl] (T311) at (1167,434) {Earpa};
\node[lbl] (T312) at (1205,444) {Z2};
\node[lbl] (T313) at (1225,446) {aa};
\node[lbl] (T314) at (1160,455) {ABplapap};
\node[lbl] (T315) at (1123,469) {ABarappapa};
\node[faint] (T316) at (1250,472) {ABplappapp};
\node[lbl] (T317) at (1243,480) {Cappa};
\node[lbl] (T318) at (1253,487) {ABplpppapp};
\node[lbl] (T319) at (1203,507) {ABplapapaa};
\node[lbl] (T320) at (1263,554) {Cppapp};
\node[lbl] (T321) at (1265,561) {P2};
\node[lbl] (T322) at (1242,566) {Ca};
\node[faint] (T323) at (1268,568) {Dp};
\node[lbl] (T324) at (1270,576) {ABprpppppp};
\node[lbl] (T325) at (1218,591) {Cppap};
\node[faint] (T326) at (1265,636) {MSpaapa};
\node[lbl] (T327) at (1265,644) {MSpapaa};
\node[lbl] (T328) at (1327,636) {ABplpapaa};
\node[lbl] (T329) at (1408,644) {ABplaaaar};
\node[lbl] (T330) at (1365,655) {ABalaaapa};
\node[lbl] (T331) at (1225,659) {ABplapapaa};
\node[lbl] (T332) at (1309,686) {ABprappp};
\node[lbl] (T333) at (1267,697) {ABprapapp};
\node[lbl] (T334) at (1320,724) {ABp};
\node[lbl] (T335) at (1345,724) {MSappa};
\node[lbl] (T336) at (1308,735) {MSappp};
\node[lbl] (T337) at (1265,744) {ABplpaaa};
\node[lbl] (T338) at (1307,748) {ABplapaap};
\node[faint] (T339) at (1253,760) {ABprppaa};
\node[lbl] (T340) at (1232,771) {ABprpapppp};
\node[faint] (T341) at (1253,782) {ABprappaa};
\node[lbl] (T342) at (1382,796) {ABarapaaap};
\node[lbl] (T343) at (1397,807) {MSpapap};
\node[lbl] (T344) at (1435,807) {ABprpppaaa};
\node[lbl] (T345) at (1303,822) {MSaaapaa};
\node[lbl] (T346) at (1262,831) {ABalp};
\node[lbl] (T347) at (1304,839) {ABplaaaaap};
\node[faint] (T348) at (1302,847) {ABaraapap};
\node[lbl] (T349) at (1383,870) {Caaa};
\node[lbl] (T350) at (1402,872) {ABarpppapa};
% hull numbers
\node[num, text=tpurple, rotate=-20] (N1) at (593,518) {24};
\node[num, text=tred] (N2) at (818,614) {13};
\node[num, text=tgreen] (N3) at (799,455) {62};
\node[num, text=tbrown, rotate=-60] (N4) at (958,653) {65};
\node[num, text=tpurple, rotate=-70] (N5) at (858,782) {104};
\node[num, text=tblue, rotate=50] (N6) at (1068,783) {90};
\node[num, text=tgreen, rotate=-70] (N7) at (355,800) {2};
\node[num, text=tred, rotate=-70] (N8) at (725,1002) {3};
\node[num, text=tolive, rotate=-15] (N9) at (582,1026) {68};
\node[num, text=tred, rotate=60] (N10) at (870,168) {73};
\node[num, text=tpurple, rotate=-80] (N11) at (781,214) {34};
\node[num, text=tblue, rotate=70] (N12) at (988,192) {116};
\node[num, text=tred, rotate=-85] (N13) at (820,274) {43};
\node[num, text=tred, rotate=-90] (N14) at (852,316) {96};
\node[num, text=tpurple, rotate=40] (N15) at (1121,321) {84};
\node[num, text=tcyan] (N16) at (1009,480) {109};
\node[num, text=tpink, rotate=20] (N17) at (1139,517) {36};
\node[num, text=tbrown, rotate=10] (N18) at (692,381) {25};
\node[num, text=tcyan, rotate=70] (N19) at (622,248) {29};
\node[num, text=tblue, rotate=40] (N20) at (573,414) {0};
\node[num, text=tred, rotate=-75] (N21) at (339,344) {83};
\node[num, text=tgreen, rotate=-40] (N22) at (251,491) {112};
\node[num, text=tred, rotate=-30] (N23) at (230,529) {113};
\node[num, text=tcyan] (N24) at (205,563) {9};
\node[num, text=tbrown, rotate=-20] (N25) at (340,514) {85};
\node[num, text=tred, rotate=-60] (N26) at (172,616) {23};
\node[num, text=torange] (N27) at (264,744) {71};
\node[num, text=tpurple] (N28) at (277,845) {114};
\node[num, text=tolive] (N29) at (157,751) {8};
\node[num, text=tbrown] (N30) at (183,887) {95};
\node[num, text=tolive] (N31) at (255,870) {88};
\node[num, text=tpurple, rotate=45] (N32) at (160,1028) {94};
\node[num, text=tolive] (N33) at (392,1074) {18};
\node[num, text=torange] (N34) at (372,1074) {17};
\node[num, text=tgreen, rotate=40] (N35) at (304,1221) {42};
\node[num, text=tgray, rotate=60] (N36) at (410,1251) {77};
\node[num, text=tblue, rotate=50] (N37) at (384,1251) {50};
\node[num, text=tblue, rotate=-90] (N38) at (627,1321) {10};
\node[num, text=tblue, rotate=-90] (N39) at (679,1313) {40};
\node[num, text=tbrown, rotate=-80] (N40) at (674,1390) {15};
\node[num, text=tpurple, rotate=30] (N41) at (974,1079) {54};
\node[num, text=tpurple, rotate=-30] (N42) at (1100,1147) {64};
\node[num, text=tolive, rotate=-30] (N43) at (1190,1147) {58};
\node[num, text=tcyan, rotate=-85] (N44) at (908,1237) {49};
\node[num, text=tcyan, rotate=-60] (N45) at (1124,1270) {59};
\node[num, text=tcyan, rotate=-15] (N46) at (882,1212) {19};
\node[num, text=tgray, rotate=-80] (N47) at (1145,1297) {27};
\node[num, text=tbrown] (N48) at (1219,1316) {35};
\node[num, text=tpink, rotate=-80] (N49) at (872,1327) {106};
\node[num, text=tcyan, rotate=-80] (N50) at (913,1359) {61};
\node[num, text=torange, rotate=-70] (N51) at (1021,1390) {47};
\node[num, text=tpurple, rotate=-60] (N52) at (969,1385) {44};
\node[num, text=tolive, rotate=-60] (N53) at (1400,946) {106};
\node[num, text=tred] (N54) at (1430,858) {63};
\node[num, text=tolive, rotate=-20] (N55) at (1382,749) {28};
\node[num, text=tpurple] (N56) at (1372,704) {4};
\node[num, text=tgray] (N57) at (1220,711) {67};
\node[numbox, text=torange, rotate=-30] (N58) at (262,436) {91};
\node[numbox, text=tred, rotate=-10] (N59) at (220,578) {33};
\node[numbox, text=tbrown, rotate=-10] (N60) at (125,688) {55};
\node[numbox, text=tolive, rotate=-70] (N61) at (163,828) {78};
\node[numbox, text=tgreen, rotate=20] (N62) at (240,923) {82};
\node[numbox, text=tpink, rotate=10] (N63) at (1234,634) {56};
\node[numbox, text=tcyan, rotate=-10] (N64) at (1287,684) {69};
\node[numbox, text=tbrown, rotate=10] (N65) at (1250,690) {75};
\node[numbox, text=tred, rotate=30] (N66) at (1225,479) {53};
\node[numbox, text=tgray, rotate=50] (N67) at (1205,402) {17};
\node[numbox, text=torange, rotate=-60] (N68) at (1003,413) {1};
\node[numbox, text=tpink, rotate=10] (N69) at (1198,899) {86};
\node[numbox, text=torange] (N70) at (1171,988) {31};
\node[numbox, text=tgreen, rotate=-10] (N71) at (1165,1043) {92};
\end{tikzpicture}
\end{document}
